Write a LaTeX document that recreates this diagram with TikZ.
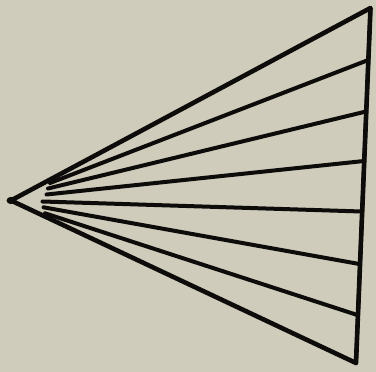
\documentclass[tikz,border=0pt]{standalone}
\definecolor{paper}{RGB}{207,204,187}
\definecolor{ink}{RGB}{14,12,10}
\tikzset{ray/.style={draw=ink,line width=4pt,line cap=round,line join=round}}
\begin{document}
\begin{tikzpicture}[x=1pt,y=-1pt]
\fill[paper] (0,0) rectangle (376,372);
\useasboundingbox (0,0) rectangle (376,372);
\coordinate (A) at (11,200.5);
\coordinate (T) at (370.5,8);
\coordinate (B) at (356,363);
% outline
\draw[ray,line width=4.6pt] (B) -- (A) -- (T) -- (B);
\draw[ray,line width=3.8pt] (T) -- (B);
\fill[ink] (A) ellipse (4.5pt and 3.6pt);
% inner rays
\coordinate (s2) at (50,183); \coordinate (e2) at (368.3,60);
\coordinate (s3) at (48,188.5); \coordinate (e3) at (366,111.5);
\coordinate (s4) at (46.5,194.5); \coordinate (e4) at (364,161);
\coordinate (s5) at (42.5,201.5); \coordinate (e5) at (361.7,211.5);
\coordinate (s6) at (43.5,207.3); \coordinate (e6) at (359.3,264);
\coordinate (s7) at (45,213.3); \coordinate (e7) at (357.3,315);
\foreach \i in {2,...,7} {\draw[ray] (s\i) -- (e\i);}
\end{tikzpicture}
\end{document}
